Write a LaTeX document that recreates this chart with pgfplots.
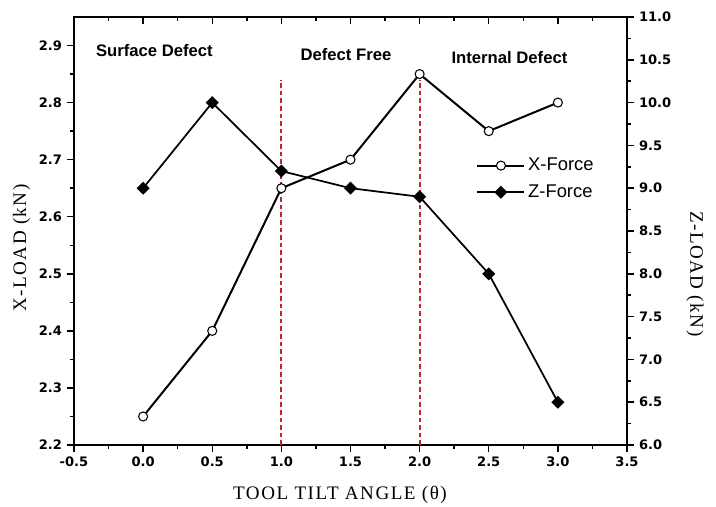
\documentclass[border=0pt]{standalone}
\usepackage{fontspec}
\setmainfont{Liberation Serif}
\newfontfamily\arialf{Liberation Sans}
\newfontfamily\tickf{DejaVu Sans}
\usepackage{pgfplots}
\pgfplotsset{compat=1.18}
\usetikzlibrary{calc}
\definecolor{dashred}{HTML}{C0282D}
\newcommand\lblfont{\fontsize{14.3}{16}\selectfont\addfontfeature{LetterSpace=8}}

\pgfplotsset{
  base/.style={
    scale only axis, width=414.75pt, height=321pt,
    xmin=-0.5, xmax=3.5,
    axis line style={line width=1.4pt},
    major tick length=5.5pt, minor tick length=3pt,
    major tick style={line width=1.1pt, black},
    minor tick style={line width=1.1pt, black},
    ticklabel style={font=\tickf\bfseries\fontsize{9.8}{11}\selectfont},
    /pgf/number format/fixed,
    /pgf/number format/fixed zerofill,
    /pgf/number format/precision=1,
    /pgf/number format/assume math mode=true,
  },
  xforce/.style={draw=black, line width=1.5pt, mark=*, mark size=3.4pt,
    mark options={draw=black, fill=white, solid, line width=0.8pt}},
  zforce/.style={draw=black, line width=1.3pt, mark=square*, mark size=2.8pt,
    mark options={rotate=45, fill=black, solid}},
}

\begin{document}
\begin{tikzpicture}
% left axis, X-Force
\begin{axis}[base,
  ymin=2.2, ymax=2.95,
  xtick={-0.5,0,0.5,1,1.5,2,2.5,3,3.5},
  ytick={2.2,2.3,2.4,2.5,2.6,2.7,2.8,2.9},
  minor x tick num=1, minor y tick num=1,
  xtick pos=left, ytick pos=left, tick align=outside,
  xlabel={TOOL TILT ANGLE (θ)}, ylabel={X-LOAD (kN)},
  xlabel style={font=\lblfont, at={(rel axis cs:0.481,0)}, anchor=center, yshift=-37.5pt},
  ylabel style={font=\lblfont, at={(rel axis cs:0,0.46)}, anchor=center, yshift=39.4pt},
]
\addplot[dashred, line width=1.4pt, dash pattern=on 3.5pt off 2.2pt, forget plot] coordinates {(1,2.2) (1,2.84)};
\addplot[dashred, line width=1.4pt, dash pattern=on 3.5pt off 2.2pt, forget plot] coordinates {(2,2.2) (2,2.84)};
\addplot[xforce] coordinates {(0,2.25) (0.5,2.4) (1,2.65) (1.5,2.7) (2,2.85) (2.5,2.75) (3,2.8)};
\node[font=\arialf\bfseries\fontsize{12.5}{14}\selectfont] at (axis cs:0.082,2.891) {Surface Defect};
\node[font=\arialf\bfseries\fontsize{12.5}{14}\selectfont] at (axis cs:1.467,2.884) {Defect Free};
\node[font=\arialf\bfseries\fontsize{12.5}{14}\selectfont] at (axis cs:2.65,2.879) {Internal Defect};
\coordinate (bl) at (rel axis cs:0,0);
\coordinate (tr) at (rel axis cs:1,1);
\end{axis}
% right axis, Z-Force
\begin{axis}[base,
  ymin=6, ymax=11,
  axis y line*=right, axis x line=none, tick align=outside,
  ytick={6,6.5,7,7.5,8,8.5,9,9.5,10,10.5,11},
  minor y tick num=1,
  ylabel={Z-LOAD (kN)},
  ylabel style={font=\lblfont, at={(rel axis cs:1,0.40)}, anchor=center, rotate=180, yshift=51pt},
  legend style={at={(0.72,0.683)}, anchor=north west, draw=none, fill=none,
    font=\arialf\fontsize{13.8}{15}\selectfont, row sep=5pt},
  legend cell align=left,
  legend image code/.code={\draw[mark repeat=2,mark phase=2,#1] plot coordinates {(0cm,0cm) (0.62cm,0cm) (1.24cm,0cm)};},
]
\addlegendimage{xforce}
\addlegendentry{X-Force}
\addplot[zforce] coordinates {(0,9.0) (0.5,10.0) (1,9.2) (1.5,9.0) (2,8.9) (2.5,8.0) (3,6.5)};
\addlegendentry{Z-Force}
\end{axis}
% top ticks, pointing in
\begin{axis}[scale only axis, width=414.75pt, height=321pt,
  xmin=-0.5, xmax=3.5, ymin=0, ymax=1,
  axis x line*=top, axis y line=none, tick align=inside,
  axis line style={line width=1.4pt},
  major tick length=5.5pt, minor tick length=3pt,
  major tick style={line width=1.1pt, black},
  minor tick style={line width=1.1pt, black},
  xtick={-0.5,0,0.5,1,1.5,2,2.5,3,3.5}, xticklabels={}, minor x tick num=1,
]
\end{axis}
\pgfresetboundingbox
\path[use as bounding box] ($(bl)+(-55.5pt,-45.75pt)$) rectangle ($(tr)+(66.75pt,12.75pt)$);
\end{tikzpicture}
\end{document}
